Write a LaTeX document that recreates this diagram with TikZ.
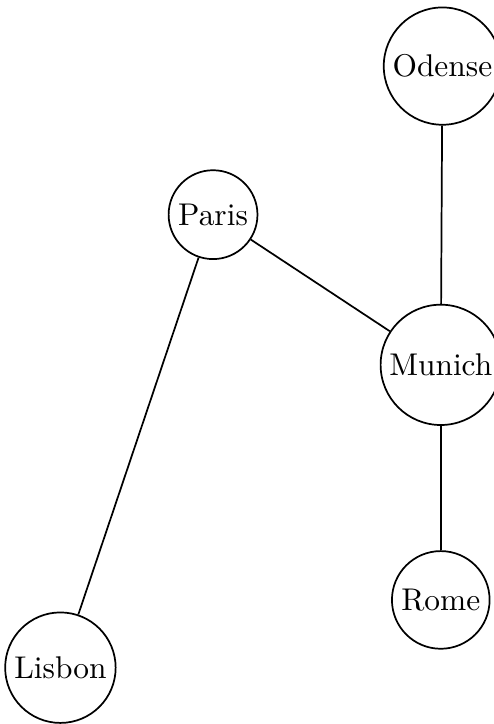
\documentclass[tikz,border=0pt]{standalone}
\begin{document}
\begin{tikzpicture}
    \tikzset{city/.style={circle,draw,semithick,inner sep=2.2pt,font=\fontsize{10.95}{13}\selectfont}}
    \useasboundingbox (0,0) rectangle (6.04,8.87);
    \node[city] (odense) at (5.42,8.06) {Odense};
    \node[city] (paris) at (2.61,6.24) {Paris};
    \node[city] (munich) at (5.40,4.40) {Munich};
    \node[city] (rome) at (5.40,1.52) {Rome};
    \node[city] (lisbon) at (0.74,0.69) {Lisbon};
    \foreach \a\b in {odense/munich, paris/munich, munich/rome, paris/lisbon}{
      \draw[semithick] (\a) -- (\b);
    }
\end{tikzpicture}
\end{document}
